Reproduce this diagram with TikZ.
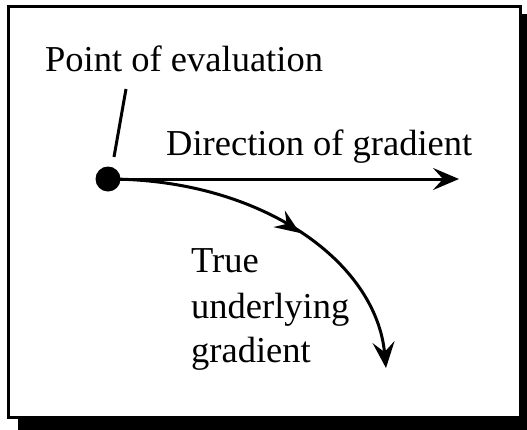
\documentclass[tikz,border=0pt]{standalone}
\usepackage{fontspec}
\setmainfont{Liberation Serif}
\newfontfamily\labelfont{Liberation Serif}
\usetikzlibrary{arrows.meta,decorations.markings}
\tikzset{
  label text/.style={anchor=base west,inner sep=0pt,font=\labelfont\fontsize{36.5}{45}\selectfont},
  grad arrow/.style={line width=3pt,-{Stealth[length=26pt,width=22pt,inset=10pt]}},
  mid arrow/.style={postaction={decorate},decoration={markings,
    mark=at position 0.55 with {\arrow{Stealth[length=25pt,width=20pt,inset=9pt]}}}}
}
\begin{document}
\begin{tikzpicture}[x=1pt,y=-1pt]
  \useasboundingbox (0,0) rectangle (527,429);
  % Frame with shadow
  \fill[black] (18,14) rectangle (530,432);
  \draw[line width=3pt,fill=white] (8.5,6.5) rectangle (520,417.5);
  % Point of evaluation
  \node[circle,fill=black,minimum size=25pt,inner sep=0pt] (point) at (108,179) {};
  \node[label text] (pointlabel) at (45,71) {Point of evaluation};
  \coordinate (leadtop) at (126,89);
  \coordinate (leadbot) at (114,157);
  \draw[line width=3pt] (leadtop) -- (leadbot);
  % Direction of gradient
  \node[label text] (gradlabel) at (166,155) {Direction of gradient};
  \coordinate (gradend) at (459,179);
  \draw[grad arrow] (point.center) -- (gradend);
  % True underlying gradient
  \node[label text] (truelabel) at (191,272) {True};
  \node[label text] (truelabel2) at (191,318) {underlying};
  \node[label text] (truelabel3) at (191,362) {gradient};
  \coordinate (trueend) at (386,368);
  \draw[grad arrow,mid arrow] (point.center) .. controls (262,179) and (376,262) .. (trueend);
\end{tikzpicture}
\end{document}
